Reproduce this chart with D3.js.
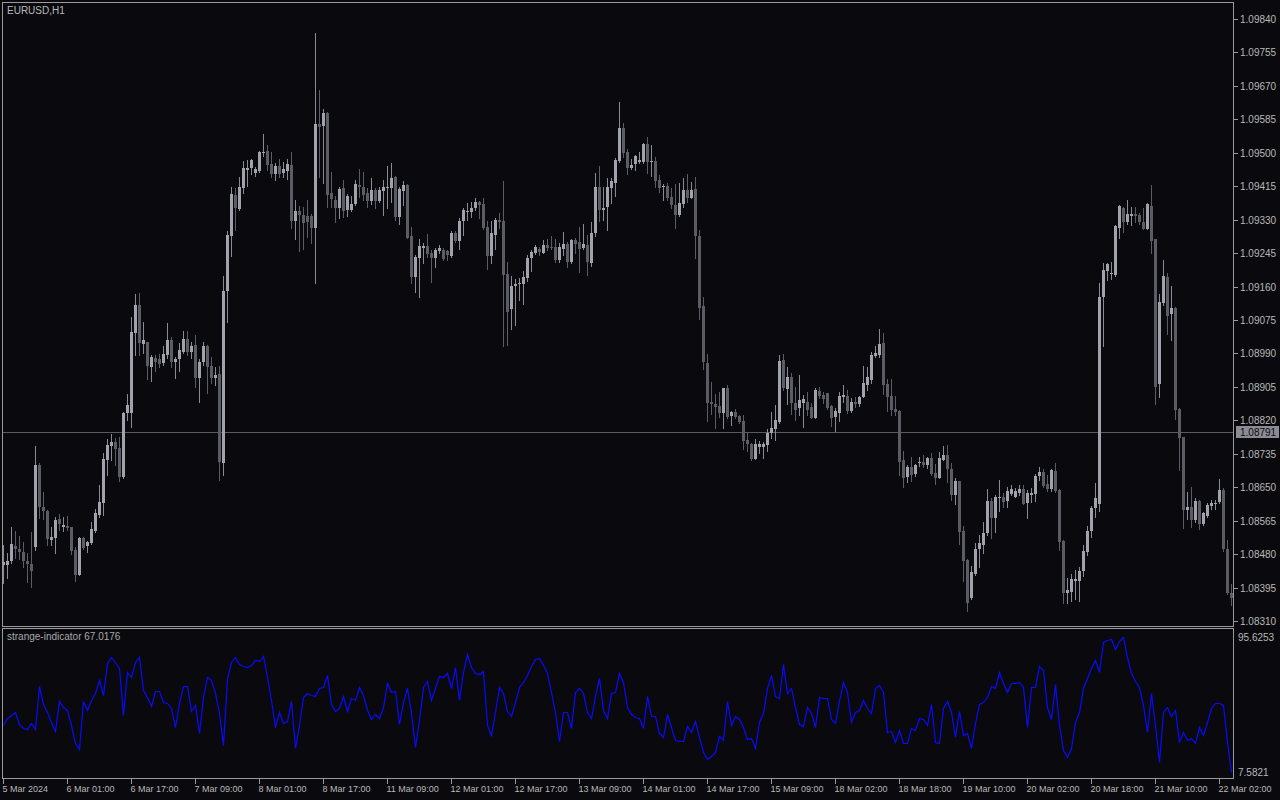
<!DOCTYPE html>
<html><head><meta charset="utf-8">
<script src="https://cdn.jsdelivr.net/npm/d3@7"></script>
<style>html,body{margin:0;padding:0;background:#0a0a0e;overflow:hidden}svg{display:block}</style>
</head><body><svg id="c" width="1280" height="800"></svg>
<script>
const symbolLabel = "EURUSD,H1";
const indicatorLabel = "strange-indicator 67.0176";

const open = [1.08452,1.08452,1.08462,1.08501,1.08493,1.08485,1.08462,1.08455,1.08498,1.08706,1.08600,1.08590,1.08516,1.08521,1.08569,1.08549,1.08551,1.08549,1.08490,1.08427,
1.08521,1.08501,1.08508,1.08539,1.08579,1.08610,1.08719,1.08755,1.08765,1.08750,1.08676,1.08839,1.08839,1.09042,1.09113,1.09014,1.09019,1.08956,1.08978,1.08976,
1.08966,1.08986,1.09024,1.08968,1.08976,1.08994,1.09027,1.08994,1.09011,1.08928,1.08968,1.09009,1.08958,1.08928,1.08938,1.08712,1.09149,1.09288,1.09393,1.09357,
1.09410,1.09456,1.09461,1.09449,1.09454,1.09499,1.09504,1.09471,1.09446,1.09466,1.09449,1.09454,1.09469,1.09327,1.09352,1.09342,1.09339,1.09339,1.09309,1.09573,
1.09568,1.09601,1.09398,1.09380,1.09360,1.09410,1.09355,1.09355,1.09370,1.09418,1.09413,1.09398,1.09377,1.09405,1.09377,1.09403,1.09410,1.09410,1.09438,1.09337,
1.09403,1.09418,1.09288,1.09184,1.09233,1.09258,1.09263,1.09245,1.09233,1.09250,1.09253,1.09250,1.09238,1.09296,1.09276,1.09327,1.09349,1.09349,1.09360,1.09375,
1.09370,1.09311,1.09238,1.09291,1.09329,1.09327,1.09192,1.09103,1.09161,1.09166,1.09166,1.09182,1.09233,1.09245,1.09255,1.09245,1.09266,1.09261,1.09261,1.09227,
1.09255,1.09268,1.09222,1.09278,1.09273,1.09258,1.09266,1.09220,1.09296,1.09413,1.09355,1.09362,1.09410,1.09423,1.09479,1.09563,1.09502,1.09461,1.09471,1.09477,
1.09477,1.09522,1.09477,1.09479,1.09431,1.09413,1.09416,1.09388,1.09367,1.09342,1.09370,1.09405,1.09385,1.09408,1.09288,1.09111,1.08966,1.08867,1.08862,1.08856,
1.08839,1.08902,1.08831,1.08841,1.08831,1.08818,1.08770,1.08760,1.08722,1.08752,1.08752,1.08757,1.08788,1.08798,1.08816,1.08973,1.08900,1.08930,1.08864,1.08851,
1.08864,1.08867,1.08854,1.08826,1.08895,1.08884,1.08889,1.08856,1.08828,1.08839,1.08879,1.08882,1.08844,1.08867,1.08862,1.08879,1.08910,1.08922,1.08983,1.08986,
1.09017,1.08912,1.08882,1.08849,1.08844,1.08719,1.08676,1.08701,1.08684,1.08712,1.08714,1.08706,1.08724,1.08686,1.08673,1.08719,1.08732,1.08696,1.08630,1.08666,
1.08539,1.08465,1.08368,1.08429,1.08493,1.08503,1.08534,1.08615,1.08572,1.08623,1.08625,1.08615,1.08633,1.08625,1.08635,1.08645,1.08610,1.08630,1.08633,1.08679,
1.08689,1.08658,1.08645,1.08691,1.08643,1.08513,1.08381,1.08384,1.08412,1.08412,1.08437,1.08485,1.08539,1.08597,1.08607,1.09133,1.09200,1.09192,1.09189,1.09309,
1.09360,1.09324,1.09339,1.09344,1.09342,1.09324,1.09306,1.09365,1.09281,1.08912,1.09118,1.09184,1.09090,1.09105,1.08849,1.08778,1.08592,1.08600,1.08567,1.08615,
1.08557,1.08577,1.08602,1.08607,1.08612,1.08643,1.08493,1.08381];

const high = [1.08503,1.08483,1.08549,1.08539,1.08526,1.08511,1.08483,1.08536,1.08755,1.08712,1.08638,1.08592,1.08549,1.08574,1.08582,1.08574,1.08577,1.08549,1.08498,1.08523,
1.08523,1.08513,1.08562,1.08595,1.08656,1.08737,1.08773,1.08785,1.08775,1.08778,1.08841,1.08887,1.09083,1.09141,1.09144,1.09070,1.09019,1.08986,1.08986,1.08989,
1.09009,1.09067,1.09032,1.08981,1.09017,1.09047,1.09047,1.09019,1.09037,1.08976,1.09019,1.09011,1.08981,1.08956,1.08958,1.09187,1.09301,1.09413,1.09410,1.09438,
1.09479,1.09482,1.09484,1.09464,1.09504,1.09548,1.09520,1.09502,1.09474,1.09484,1.09477,1.09484,1.09502,1.09380,1.09365,1.09362,1.09380,1.09344,1.09804,1.09660,
1.09611,1.09604,1.09451,1.09390,1.09413,1.09431,1.09395,1.09390,1.09431,1.09459,1.09451,1.09410,1.09436,1.09410,1.09413,1.09431,1.09466,1.09474,1.09441,1.09413,
1.09428,1.09421,1.09311,1.09240,1.09281,1.09271,1.09294,1.09253,1.09258,1.09266,1.09258,1.09253,1.09301,1.09301,1.09334,1.09360,1.09372,1.09375,1.09385,1.09377,
1.09385,1.09327,1.09327,1.09334,1.09347,1.09428,1.09222,1.09187,1.09179,1.09182,1.09200,1.09240,1.09253,1.09266,1.09261,1.09278,1.09281,1.09288,1.09281,1.09271,
1.09299,1.09273,1.09281,1.09283,1.09311,1.09319,1.09291,1.09324,1.09449,1.09466,1.09413,1.09436,1.09436,1.09487,1.09629,1.09576,1.09510,1.09484,1.09494,1.09502,
1.09525,1.09540,1.09520,1.09489,1.09444,1.09421,1.09423,1.09410,1.09421,1.09423,1.09436,1.09446,1.09426,1.09438,1.09304,1.09133,1.08989,1.08917,1.08887,1.08892,
1.08902,1.08910,1.08844,1.08849,1.08834,1.08834,1.08790,1.08762,1.08773,1.08767,1.08765,1.08798,1.08841,1.08859,1.08986,1.08989,1.08956,1.08940,1.08905,1.08935,
1.08884,1.08892,1.08864,1.08902,1.08905,1.08892,1.08889,1.08859,1.08851,1.08892,1.08910,1.08897,1.08877,1.08879,1.08882,1.08958,1.08956,1.08994,1.09009,1.09052,
1.09042,1.08925,1.08925,1.08882,1.08846,1.08742,1.08706,1.08727,1.08709,1.08727,1.08732,1.08727,1.08737,1.08709,1.08740,1.08755,1.08757,1.08712,1.08673,1.08666,
1.08551,1.08468,1.08450,1.08508,1.08529,1.08562,1.08645,1.08623,1.08630,1.08668,1.08635,1.08651,1.08656,1.08648,1.08656,1.08656,1.08643,1.08648,1.08684,1.08701,
1.08696,1.08681,1.08696,1.08712,1.08645,1.08516,1.08419,1.08429,1.08440,1.08447,1.08503,1.08551,1.08602,1.08661,1.09169,1.09220,1.09220,1.09222,1.09316,1.09367,
1.09362,1.09380,1.09362,1.09362,1.09347,1.09360,1.09372,1.09418,1.09281,1.09141,1.09227,1.09194,1.09161,1.09108,1.08851,1.08778,1.08638,1.08651,1.08623,1.08618,
1.08587,1.08610,1.08618,1.08618,1.08671,1.08648,1.08516,1.08404];

const low = [1.08407,1.08419,1.08457,1.08470,1.08468,1.08447,1.08409,1.08396,1.08490,1.08572,1.08569,1.08503,1.08503,1.08483,1.08541,1.08539,1.08541,1.08480,1.08412,1.08427,
1.08493,1.08485,1.08506,1.08536,1.08574,1.08579,1.08681,1.08719,1.08706,1.08666,1.08673,1.08821,1.08803,1.08986,1.08986,1.08991,1.08925,1.08920,1.08945,1.08956,
1.08961,1.08978,1.08956,1.08928,1.08945,1.08991,1.08986,1.08978,1.08905,1.08867,1.08961,1.08889,1.08915,1.08910,1.08668,1.08681,1.09070,1.09238,1.09304,1.09355,
1.09398,1.09416,1.09446,1.09441,1.09451,1.09492,1.09456,1.09438,1.09431,1.09438,1.09438,1.09433,1.09309,1.09281,1.09250,1.09255,1.09286,1.09271,1.09169,1.09438,
1.09423,1.09362,1.09362,1.09324,1.09334,1.09337,1.09339,1.09352,1.09367,1.09388,1.09380,1.09362,1.09370,1.09360,1.09375,1.09342,1.09360,1.09375,1.09329,1.09319,
1.09367,1.09283,1.09169,1.09146,1.09133,1.09220,1.09235,1.09172,1.09210,1.09245,1.09227,1.09227,1.09235,1.09273,1.09255,1.09291,1.09329,1.09337,1.09355,1.09334,
1.09306,1.09205,1.09220,1.09255,1.09309,1.09009,1.09011,1.09052,1.09062,1.09126,1.09116,1.09174,1.09200,1.09243,1.09240,1.09245,1.09253,1.09255,1.09222,1.09222,
1.09240,1.09210,1.09220,1.09245,1.09197,1.09255,1.09189,1.09212,1.09288,1.09327,1.09329,1.09304,1.09372,1.09390,1.09477,1.09489,1.09446,1.09459,1.09456,1.09474,
1.09474,1.09449,1.09441,1.09413,1.09400,1.09380,1.09380,1.09360,1.09309,1.09339,1.09362,1.09375,1.09385,1.09233,1.09078,1.08950,1.08818,1.08836,1.08801,1.08828,
1.08801,1.08826,1.08808,1.08826,1.08813,1.08747,1.08742,1.08719,1.08722,1.08737,1.08724,1.08742,1.08775,1.08770,1.08813,1.08897,1.08862,1.08836,1.08821,1.08834,
1.08803,1.08834,1.08826,1.08826,1.08877,1.08864,1.08849,1.08806,1.08793,1.08818,1.08867,1.08839,1.08841,1.08854,1.08856,1.08879,1.08897,1.08915,1.08981,1.08981,
1.08887,1.08844,1.08834,1.08834,1.08681,1.08651,1.08663,1.08666,1.08679,1.08704,1.08701,1.08699,1.08681,1.08658,1.08673,1.08719,1.08663,1.08618,1.08607,1.08506,
1.08412,1.08335,1.08366,1.08427,1.08447,1.08483,1.08529,1.08521,1.08536,1.08590,1.08600,1.08600,1.08630,1.08625,1.08630,1.08607,1.08572,1.08612,1.08615,1.08668,
1.08651,1.08640,1.08640,1.08638,1.08490,1.08356,1.08356,1.08361,1.08366,1.08361,1.08424,1.08478,1.08523,1.08574,1.08590,1.09009,1.09177,1.09179,1.09187,1.09283,
1.09299,1.09319,1.09316,1.09324,1.09319,1.09306,1.09306,1.09245,1.08862,1.08879,1.09113,1.09039,1.09024,1.08823,1.08694,1.08546,1.08569,1.08549,1.08562,1.08544,
1.08554,1.08574,1.08595,1.08595,1.08610,1.08488,1.08379,1.08351];

const close = [1.08460,1.08462,1.08506,1.08493,1.08485,1.08462,1.08455,1.08437,1.08706,1.08600,1.08590,1.08518,1.08523,1.08567,1.08557,1.08554,1.08546,1.08488,1.08427,1.08521,
1.08496,1.08511,1.08544,1.08584,1.08612,1.08722,1.08757,1.08765,1.08747,1.08676,1.08839,1.08859,1.09044,1.09113,1.09017,1.09024,1.08958,1.08981,1.08968,1.08963,
1.08989,1.09024,1.08968,1.08976,1.08999,1.09027,1.08994,1.09009,1.08928,1.08968,1.09009,1.08956,1.08928,1.08935,1.08714,1.09149,1.09291,1.09395,1.09360,1.09413,
1.09461,1.09461,1.09482,1.09459,1.09502,1.09502,1.09469,1.09446,1.09466,1.09446,1.09459,1.09471,1.09327,1.09352,1.09342,1.09322,1.09324,1.09309,1.09573,1.09566,
1.09601,1.09393,1.09383,1.09360,1.09408,1.09352,1.09390,1.09370,1.09421,1.09413,1.09393,1.09377,1.09405,1.09377,1.09405,1.09413,1.09413,1.09436,1.09337,1.09408,
1.09418,1.09283,1.09184,1.09235,1.09263,1.09263,1.09243,1.09233,1.09253,1.09258,1.09230,1.09240,1.09296,1.09276,1.09327,1.09355,1.09352,1.09360,1.09375,1.09367,
1.09309,1.09238,1.09296,1.09329,1.09324,1.09189,1.09095,1.09161,1.09166,1.09169,1.09184,1.09233,1.09248,1.09261,1.09248,1.09266,1.09258,1.09258,1.09227,1.09261,
1.09268,1.09222,1.09278,1.09268,1.09255,1.09268,1.09222,1.09296,1.09413,1.09355,1.09360,1.09413,1.09428,1.09482,1.09563,1.09499,1.09461,1.09469,1.09492,1.09482,
1.09522,1.09477,1.09479,1.09428,1.09410,1.09416,1.09385,1.09367,1.09342,1.09372,1.09405,1.09385,1.09405,1.09288,1.09105,1.08968,1.08864,1.08862,1.08854,1.08839,
1.08902,1.08828,1.08841,1.08828,1.08816,1.08767,1.08760,1.08722,1.08760,1.08760,1.08760,1.08788,1.08801,1.08821,1.08971,1.08902,1.08930,1.08864,1.08846,1.08872,
1.08874,1.08846,1.08826,1.08897,1.08882,1.08874,1.08851,1.08826,1.08844,1.08882,1.08884,1.08844,1.08867,1.08862,1.08879,1.08915,1.08930,1.08986,1.08991,1.09014,
1.08910,1.08879,1.08846,1.08841,1.08714,1.08673,1.08701,1.08681,1.08706,1.08714,1.08706,1.08724,1.08684,1.08673,1.08724,1.08732,1.08696,1.08630,1.08666,1.08536,
1.08462,1.08356,1.08435,1.08493,1.08508,1.08534,1.08615,1.08572,1.08625,1.08625,1.08612,1.08640,1.08645,1.08640,1.08645,1.08607,1.08635,1.08635,1.08679,1.08689,
1.08653,1.08645,1.08694,1.08640,1.08511,1.08381,1.08389,1.08417,1.08417,1.08437,1.08488,1.08539,1.08597,1.08623,1.09133,1.09202,1.09217,1.09194,1.09314,1.09365,
1.09324,1.09344,1.09344,1.09339,1.09324,1.09306,1.09370,1.09276,1.08905,1.09121,1.09187,1.09085,1.09105,1.08846,1.08775,1.08592,1.08600,1.08567,1.08615,1.08557,
1.08584,1.08605,1.08610,1.08610,1.08643,1.08493,1.08381,1.08368];

const indicator = [38.02,42.36,44.54,46.28,38.45,35.84,35.19,39.10,35.41,63.67,51.49,46.28,40.19,34.10,53.67,49.97,47.80,38.02,26.06,22.36,
53.67,47.80,54.32,58.67,67.37,57.58,78.24,82.58,79.32,74.97,44.54,72.80,69.54,79.32,82.58,60.84,56.50,50.63,60.19,60.19,
52.80,52.15,48.89,36.93,52.15,63.67,63.67,47.15,51.06,32.58,56.50,69.54,67.37,58.67,45.63,24.97,68.45,78.89,82.15,77.58,
76.71,76.06,77.15,80.41,79.76,83.24,69.54,54.32,36.93,46.28,39.54,40.84,53.67,22.80,38.02,56.50,58.67,57.58,57.15,62.36,
62.58,70.63,51.49,47.15,48.89,57.15,47.15,55.84,54.32,63.02,57.58,47.80,41.93,44.97,42.36,49.97,65.19,59.76,60.19,38.45,
53.23,61.93,45.63,23.89,41.28,63.02,66.71,54.32,61.93,70.19,69.54,71.71,61.93,76.06,54.32,72.37,84.10,76.06,71.71,71.06,
73.23,38.02,31.49,46.71,63.02,58.67,47.15,44.10,53.23,63.02,65.84,70.63,76.71,81.06,81.50,77.15,71.71,59.76,46.71,27.58,
46.28,46.71,35.84,59.32,61.93,58.67,46.28,42.36,57.15,68.45,47.80,42.80,58.67,59.76,71.71,66.28,49.97,44.97,43.02,42.36,
36.28,57.15,44.10,44.10,32.58,29.97,44.97,36.93,28.23,27.80,27.58,37.58,33.23,40.84,30.41,20.62,15.62,18.02,20.19,31.06,
28.23,53.67,38.02,43.67,41.71,36.93,28.67,29.32,22.80,39.76,45.63,61.93,70.63,57.15,55.84,77.58,58.67,61.93,49.97,38.45,
37.58,49.97,45.63,36.93,56.50,55.41,55.84,41.93,39.54,53.67,65.84,59.76,40.19,46.28,47.80,54.32,49.32,45.63,61.93,64.10,
59.76,33.23,34.10,26.71,34.76,26.06,26.06,35.84,34.76,42.80,41.71,38.02,51.49,27.15,26.06,48.89,53.67,46.71,30.41,47.15,
31.49,32.58,23.23,39.10,51.49,53.23,56.50,63.67,61.93,72.80,65.19,59.76,65.19,65.19,65.84,63.02,36.93,63.02,63.02,76.71,
73.89,49.97,41.71,64.54,38.02,21.71,17.36,22.80,40.19,46.71,61.93,68.45,74.97,80.41,72.80,92.37,93.45,94.11,87.58,92.80,
95.6253,82.58,71.71,66.71,63.02,51.06,33.67,58.67,38.02,14.10,46.71,49.97,44.10,47.80,27.15,33.67,28.23,29.32,26.06,36.93,
31.49,40.19,48.89,52.15,52.58,51.06,27.15,7.5821];

const priceTicks = [1.09840,1.09755,1.09670,1.09585,1.09500,1.09415,1.09330,1.09245,1.09160,1.09075,1.08990,1.08905,1.08820,1.08735,1.08650,1.08565,1.08480,1.08395,1.08310];
const indicatorTicks = [95.6253, 7.5821];
const timeLabels = ["5 Mar 2024","6 Mar 01:00","6 Mar 17:00","7 Mar 09:00","8 Mar 01:00","8 Mar 17:00","11 Mar 09:00","12 Mar 01:00","12 Mar 17:00","13 Mar 09:00",
"14 Mar 01:00","14 Mar 17:00","15 Mar 09:00","18 Mar 02:00","18 Mar 18:00","19 Mar 10:00","20 Mar 02:00","20 Mar 18:00","21 Mar 10:00","22 Mar 02:00"];
const timeLabelBars = [0,16,32,48,64,80,96,112,128,144,160,176,192,208,224,240,256,272,288,304];
const hLinePrice = 1.08791;

const BG = "#0a0a0e", BORDER = "#9a9a9a", TEXT = "#b8b8b8";
const BULL = "#a2a2ac", BEAR = "#5c5c64", WICK_UP = "#8a8a94", WICK_DN = "#5c5c64";
const FONT = "'Liberation Sans', Arial, sans-serif";

const svg = d3.select("#c");
svg.append("rect").attr("width",1280).attr("height",800).attr("fill",BG);

const n = open.length;
const x = d3.scaleLinear().domain([0, n-1]).range([3.5, 1231.5]);
const y = d3.scaleLinear().domain([1.08310, 1.09840]).range([621, 19]);
const yi = d3.scaleLinear().domain([7.5821, 95.6253]).range([771.7, 636.7]);

const defs = svg.append("defs");
defs.append("clipPath").attr("id","mainClip").append("rect").attr("x",3).attr("y",3).attr("width",1230).attr("height",623);
defs.append("clipPath").attr("id","indClip").append("rect").attr("x",3).attr("y",629).attr("width",1230).attr("height",149);

const main = svg.append("g").attr("clip-path","url(#mainClip)").attr("shape-rendering","crispEdges");

main.append("line").attr("x1",3).attr("x2",1233)
  .attr("y1",Math.round(y(hLinePrice))+0.5).attr("y2",Math.round(y(hLinePrice))+0.5)
  .attr("stroke","#5a5a62").attr("stroke-width",1);

const idx = d3.range(n);
const cx = i => Math.floor(x(i));
main.selectAll("line.wick").data(idx).join("line").attr("class","wick")
  .attr("x1", i=>cx(i)+0.5).attr("x2", i=>cx(i)+0.5)
  .attr("y1", i=>Math.round(y(high[i]))).attr("y2", i=>Math.round(y(low[i]))+1)
  .attr("stroke", i=> close[i]>=open[i] ? WICK_UP : WICK_DN).attr("stroke-width",1);
main.selectAll("rect.body").data(idx).join("rect").attr("class","body")
  .attr("x", i=>cx(i)-1).attr("width",3)
  .attr("y", i=>Math.round(y(Math.max(open[i],close[i]))))
  .attr("height", i=>Math.max(1, Math.round(y(Math.min(open[i],close[i]))) - Math.round(y(Math.max(open[i],close[i])))))
  .attr("fill", i=> close[i]>=open[i] ? BULL : BEAR);

const ind = svg.append("g").attr("clip-path","url(#indClip)");
ind.append("path").datum(indicator)
  .attr("d", d3.line().x((d,i)=>cx(i)+0.5).y(d=>Math.round(yi(d))+0.5))
  .attr("fill","none").attr("stroke","#0a0aff").attr("stroke-width",1.2);

const frame = svg.append("g").attr("shape-rendering","crispEdges").attr("fill","none").attr("stroke",BORDER);
frame.append("rect").attr("x",2.5).attr("y",2.5).attr("width",1231).attr("height",624);
frame.append("rect").attr("x",2.5).attr("y",628.5).attr("width",1231).attr("height",150);

const pa = svg.append("g").attr("font-family",FONT).attr("font-size","10px").attr("fill",TEXT);
priceTicks.forEach(p=>{
  const yy = Math.round(y(p))+0.5;
  pa.append("line").attr("x1",1234).attr("x2",1238).attr("y1",yy).attr("y2",yy).attr("stroke",BORDER).attr("shape-rendering","crispEdges");
  pa.append("text").attr("x",1240).attr("y",yy).attr("dy","0.35em").text(d3.format(".5f")(p));
});
const hy = Math.round(y(hLinePrice));
pa.append("rect").attr("x",1236).attr("y",hy-6).attr("width",43).attr("height",12).attr("fill","#8c8c94");
pa.append("text").attr("x",1240).attr("y",hy).attr("dy","0.35em").attr("fill","#0a0a0e").text(d3.format(".5f")(hLinePrice));

indicatorTicks.forEach(v=>{
  const yy = Math.round(yi(v))+0.5;
  pa.append("text").attr("x",1238).attr("y",yy).attr("dy","0.35em").text(String(v));
});

const ta = svg.append("g").attr("font-family",FONT).attr("font-size","9px").attr("fill",TEXT);
timeLabels.forEach((t,k)=>{
  const xx = cx(timeLabelBars[k])+0.5;
  ta.append("line").attr("x1",xx).attr("x2",xx).attr("y1",779).attr("y2",784).attr("stroke",BORDER).attr("shape-rendering","crispEdges");
  ta.append("text").attr("x",xx-1).attr("y",792).text(t);
});

svg.append("text").attr("x",7).attr("y",14).attr("font-family",FONT).attr("font-size","10px").attr("fill",TEXT).text(symbolLabel);
svg.append("text").attr("x",7).attr("y",640).attr("font-family",FONT).attr("font-size","10px").attr("fill","#a8a8a8").text(indicatorLabel);
</script>
</body></html>
